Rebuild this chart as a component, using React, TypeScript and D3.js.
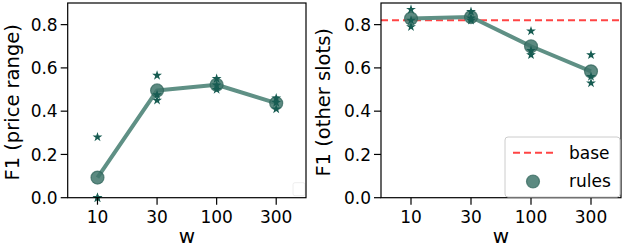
import React, { useEffect, useRef } from 'react';
import * as d3 from 'd3';

const windows: string[] = ['10', '30', '100', '300'];
const yTicks: number[] = [0, 0.2, 0.4, 0.6, 0.8];

// mean F1 per window size
const priceMean: number[] = [0.093, 0.496, 0.522, 0.437];
const otherMean: number[] = [0.828, 0.835, 0.7, 0.584];

// individual runs (stars)
const priceRuns: number[][] = [
  [0.28, 0.0, 0.0],
  [0.565, 0.45, 0.475],
  [0.55, 0.5, 0.52],
  [0.46, 0.41, 0.44],
];
const otherRuns: number[][] = [
  [0.87, 0.79, 0.82],
  [0.86, 0.82, 0.83],
  [0.77, 0.66, 0.68],
  [0.66, 0.53, 0.56],
];
const baseValue = 0.82;

const FONT = 'DejaVu Sans, sans-serif';
const starColor = '#175c52';
const lineColor = '#5f9085';
const dotColor = '#40756b';
const baseColor = '#ff4444';

interface PanelOpts {
  left: number;
  right: number;
  label: string;
  labelX: number;
  means: number[];
  runs: number[][];
  base: boolean;
}

const App: React.FC = () => {
  const ref = useRef<SVGSVGElement | null>(null);

  useEffect(() => {
    if (!ref.current) return;
    const svg = d3.select(ref.current);
    svg.selectAll('*').remove();

    const top = 3;
    const bottom = 197.7;
    const y = d3.scaleLinear().domain([0, 0.9]).range([bottom, top]);

    const drawPanel = (o: PanelOpts) => {
      const x = d3.scaleLinear().domain([-0.5, 3.5]).range([o.left, o.right]);
      const g = svg.append('g');

      if (o.base) {
        g.append('line')
          .attr('x1', o.left)
          .attr('x2', o.right)
          .attr('y1', y(baseValue))
          .attr('y2', y(baseValue))
          .attr('stroke', baseColor)
          .attr('stroke-width', 2)
          .attr('stroke-dasharray', '7,4');
      } else {
        // empty legend frame left behind in the corner
        g.append('rect')
          .attr('x', o.right - 13)
          .attr('y', bottom - 15)
          .attr('width', 12)
          .attr('height', 13)
          .attr('rx', 2)
          .attr('fill', 'white')
          .attr('stroke', '#eeeeee')
          .attr('stroke-width', 1);
      }

      const line = d3
        .line<number>()
        .x((_, i) => x(i))
        .y((d) => y(d));

      g.append('path')
        .datum(o.means)
        .attr('d', line)
        .attr('fill', 'none')
        .attr('stroke', lineColor)
        .attr('stroke-width', 4)
        .attr('stroke-linejoin', 'round');

      g.selectAll('.dot')
        .data(o.means)
        .enter()
        .append('circle')
        .attr('cx', (_, i) => x(i))
        .attr('cy', (d) => y(d))
        .attr('r', 6.5)
        .attr('fill', dotColor)
        .attr('fill-opacity', 0.85)
        .attr('stroke', '#2e6359')
        .attr('stroke-opacity', 0.7)
        .attr('stroke-width', 1.2);

      const star = d3.symbol().type(d3.symbolStar).size(30);
      o.runs.forEach((vals, i) => {
        g.selectAll(`.star${i}`)
          .data(vals)
          .enter()
          .append('path')
          .attr('d', star)
          .attr('transform', (d) => `translate(${x(i)},${y(d)})`)
          .attr('fill', starColor);
      });

      // spines
      g.append('rect')
        .attr('x', o.left)
        .attr('y', top)
        .attr('width', o.right - o.left)
        .attr('height', bottom - top)
        .attr('fill', 'none')
        .attr('stroke', 'black')
        .attr('stroke-width', 1.2);

      // y axis
      yTicks.forEach((t) => {
        g.append('line')
          .attr('x1', o.left - 7)
          .attr('x2', o.left)
          .attr('y1', y(t))
          .attr('y2', y(t))
          .attr('stroke', 'black')
          .attr('stroke-width', 1.2);
        g.append('text')
          .attr('x', o.left - 10)
          .attr('y', y(t))
          .attr('dy', '0.36em')
          .attr('text-anchor', 'end')
          .attr('font-family', FONT)
          .attr('font-size', 17)
          .text(t.toFixed(1));
      });

      // x axis
      windows.forEach((w, i) => {
        g.append('line')
          .attr('x1', x(i))
          .attr('x2', x(i))
          .attr('y1', bottom)
          .attr('y2', bottom + 7)
          .attr('stroke', 'black')
          .attr('stroke-width', 1.2);
        g.append('text')
          .attr('x', x(i))
          .attr('y', 222.5)
          .attr('text-anchor', 'middle')
          .attr('font-family', FONT)
          .attr('font-size', 17)
          .text(w);
      });

      g.append('text')
        .attr('x', (o.left + o.right) / 2)
        .attr('y', 243)
        .attr('text-anchor', 'middle')
        .attr('font-family', FONT)
        .attr('font-size', 20)
        .text('w');

      g.append('text')
        .attr('transform', `translate(${o.labelX},${(top + bottom) / 2 + 2}) rotate(-90)`)
        .attr('text-anchor', 'middle')
        .attr('font-family', FONT)
        .attr('font-size', 19.5)
        .text(o.label);

      if (o.base) {
        const lg = g.append('g');
        lg.append('rect')
          .attr('x', 505)
          .attr('y', 137)
          .attr('width', 115)
          .attr('height', 60)
          .attr('rx', 3)
          .attr('fill', 'white')
          .attr('fill-opacity', 0.8)
          .attr('stroke', '#cccccc');
        lg.append('line')
          .attr('x1', 513)
          .attr('x2', 553)
          .attr('y1', 152.7)
          .attr('y2', 152.7)
          .attr('stroke', baseColor)
          .attr('stroke-width', 2)
          .attr('stroke-dasharray', '7,4');
        lg.append('circle')
          .attr('cx', 533)
          .attr('cy', 181.5)
          .attr('r', 6.5)
          .attr('fill', dotColor)
          .attr('fill-opacity', 0.85)
          .attr('stroke', '#2e6359')
          .attr('stroke-opacity', 0.7)
          .attr('stroke-width', 1.2);
        lg.append('text')
          .attr('x', 569)
          .attr('y', 158.5)
          .attr('font-family', FONT)
          .attr('font-size', 17)
          .text('base');
        lg.append('text')
          .attr('x', 569)
          .attr('y', 187)
          .attr('font-family', FONT)
          .attr('font-size', 17)
          .text('rules');
      }
    };

    drawPanel({
      left: 67.7,
      right: 306,
      label: 'F1 (price range)',
      labelX: 18.6,
      means: priceMean,
      runs: priceRuns,
      base: false,
    });
    drawPanel({
      left: 381,
      right: 621,
      label: 'F1 (other slots)',
      labelX: 330,
      means: otherMean,
      runs: otherRuns,
      base: true,
    });
  }, []);

  return (
    <svg
      ref={ref}
      width={622}
      height={248}
      style={{ position: 'absolute', left: 0, top: 0, background: 'white' }}
    ></svg>
  );
};

export default App;
